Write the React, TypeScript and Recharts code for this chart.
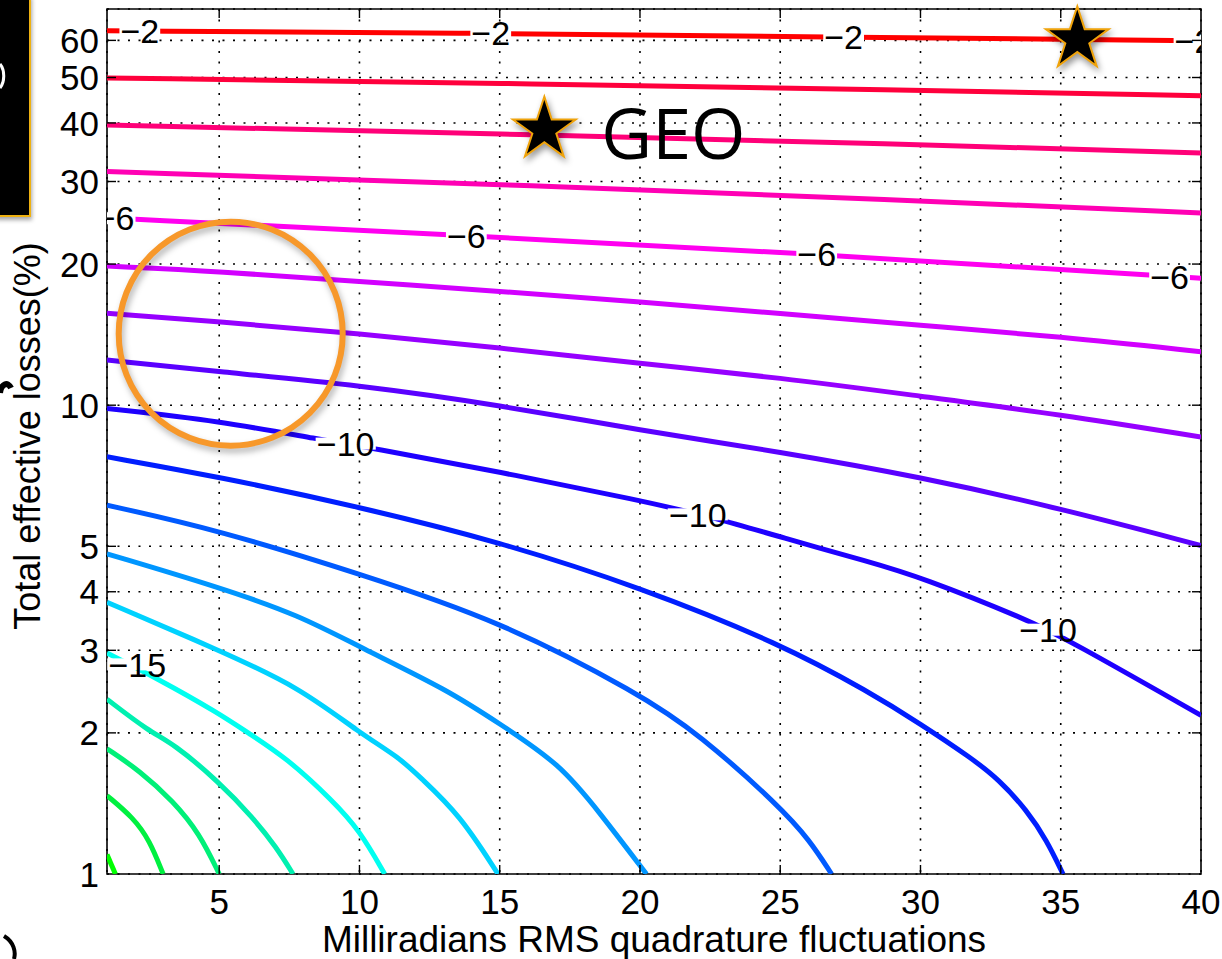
import React from 'react';
import { ComposedChart, Scatter, XAxis, YAxis, CartesianGrid, ReferenceDot, ReferenceArea } from 'recharts';

const WIDTH = 1222;
const HEIGHT = 959;
const MARGIN = { top: 9, right: 21, left: 0, bottom: 0 };
const Y_AXIS_W = 107;
const X_AXIS_H = 85;
const PLOT_LEFT = MARGIN.left + Y_AXIS_W;
const PLOT_RIGHT = WIDTH - MARGIN.right;
const PLOT_TOP = MARGIN.top;
const PLOT_BOTTOM = HEIGHT - MARGIN.bottom - X_AXIS_H;
const TICK_LEN = 9;
const FONT = '"Liberation Sans", Arial, Helvetica, sans-serif';
const TICK_FONT = 35;
const LABEL_FONT = 34;

const xTicks = [5, 10, 15, 20, 25, 30, 35, 40];
const yTicks = [1, 2, 3, 4, 5, 10, 20, 30, 40, 50, 60];

// contour lines, [mrad, loss %] pairs, top (-2) to bottom (-19)
const contourM2 = [[1, 62.9], [14.1, 62.2], [26.7, 61.0], [39.2, 60.0], [40, 59.9]];
const contourM3 = [[1, 49.9], [15, 48.6], [29.3, 47.1], [40, 45.7]];
const contourM4 = [[1, 39.6], [15, 37.9], [29.3, 36.1], [40, 34.5]];
const contourM5 = [[1, 31.5], [15, 29.6], [29.3, 27.4], [40, 25.7]];
const contourM6 = [[1, 25.1], [13.3, 23.1], [25.8, 21.1], [38.4, 18.9], [40, 18.65]];
const contourM7 = [[1, 19.8], [5, 19.3], [10, 18.35], [15, 17.5], [20, 16.6], [25, 15.7], [30, 14.8], [35, 14.0], [40, 13.0]];
const contourM8 = [[1, 15.7], [5, 15.07], [10, 14.2], [15, 13.26], [20, 12.27], [25, 11.45], [30, 10.45], [35, 9.55], [40, 8.55]];
const contourM9 = [[1, 12.48], [5, 11.78], [10, 11.03], [15, 10.0], [20, 8.84], [25, 7.95], [30, 7.03], [35, 6.02], [40, 5.02]];
const contourM10 = [[1, 9.84], [5, 9.26], [8.7, 8.42], [10.25, 8.15], [15, 7.2], [20, 6.27], [22.8, 5.73], [25, 5.23], [28.2, 4.63], [30, 4.3], [33.8, 3.49], [35.3, 3.15], [40, 2.18]];
const contourM11 = [[1, 7.76], [5, 7.03], [10, 6.07], [15, 5.11], [20, 4.09], [25, 3.1], [28.2, 2.44], [30, 2.09], [31.8, 1.77], [32.8, 1.59], [33.8, 1.365], [34.5, 1.18], [35.08, 1.0]];
const contourM12 = [[1, 6.12], [5, 5.41], [10, 4.37], [15, 3.47], [20, 2.42], [22.1, 1.99], [25, 1.39], [26.05, 1.18], [26.83, 1.0]];
const contourM13 = [[1, 4.82], [5, 4.09], [7.87, 3.56], [10, 3.05], [13.2, 2.46], [15, 2.09], [17.14, 1.72], [18.57, 1.35], [20.23, 1.0]];
const contourM14 = [[1, 3.8], [5, 3.0], [7.87, 2.5], [10, 2.0], [11.43, 1.77], [12.15, 1.61], [13.57, 1.34], [14.94, 1.0]];
const contourM15 = [[1, 2.96], [2.76, 2.62], [5, 2.2], [5.97, 2.01], [7.4, 1.77], [9.06, 1.43], [10, 1.24], [10.9, 1.0]];
const contourM16 = [[1, 2.36], [2.52, 2.01], [3.36, 1.9], [5, 1.57], [6.2, 1.32], [7.04, 1.14], [7.63, 1.0]];
const contourM17 = [[1, 1.85], [2.17, 1.66], [3.36, 1.43], [4.3, 1.22], [5.0, 1.0]];
const contourM18 = [[1, 1.47], [1.93, 1.32], [2.52, 1.18], [3.0, 1.0]];
const contourM19 = [[1, 1.1], [1.3, 1.0]];

const contours = [
  { level: -2, color: '#ff0000', points: contourM2 },
  { level: -3, color: '#ff003c', points: contourM3 },
  { level: -4, color: '#ff0078', points: contourM4 },
  { level: -5, color: '#ff00b4', points: contourM5 },
  { level: -6, color: '#ff00f0', points: contourM6 },
  { level: -7, color: '#d200ff', points: contourM7 },
  { level: -8, color: '#9600ff', points: contourM8 },
  { level: -9, color: '#5a00ff', points: contourM9 },
  { level: -10, color: '#1e00ff', points: contourM10 },
  { level: -11, color: '#001eff', points: contourM11 },
  { level: -12, color: '#005aff', points: contourM12 },
  { level: -13, color: '#0096ff', points: contourM13 },
  { level: -14, color: '#00d2ff', points: contourM14 },
  { level: -15, color: '#00fff0', points: contourM15 },
  { level: -16, color: '#00f0b0', points: contourM16 },
  { level: -17, color: '#00f078', points: contourM17 },
  { level: -18, color: '#00f040', points: contourM18 },
  { level: -19, color: '#00ff00', points: contourM19 },
];

// inline contour labels (clabel)
const contourLabels = [
  { x: 2.17, y: 62.8, text: '\u22122' },
  { x: 14.68, y: 62.15, text: '\u22122' },
  { x: 27.26, y: 60.95, text: '\u22122' },
  { x: 39.75, y: 59.92, text: '\u22122' },
  { x: 1.29, y: 25.05, text: '\u22126' },
  { x: 13.81, y: 23.0, text: '\u22126' },
  { x: 26.3, y: 21.0, text: '\u22126' },
  { x: 38.88, y: 18.75, text: '\u22126' },
  { x: 9.51, y: 8.28, text: '\u221210' },
  { x: 22.06, y: 5.85, text: '\u221210' },
  { x: 34.55, y: 3.32, text: '\u221210' },
  { x: 2.08, y: 2.8, text: '\u221215' },
];

const stars = [
  { x: 16.59, y: 38.7, name: 'GEO' },
  { x: 35.59, y: 60.3, name: '' },
];

const highlight = { x: 5.41, y: 14.21 };

const toXY = (pts: number[][]) => pts.map(([x, y]) => ({ x, y }));

const NoPoint = () => <g />;

const XTick = (props: any) => {
  const { x, payload } = props;
  const v = payload.value;
  const edge = v === 40;
  return (
    <g>
      {!edge && <line x1={x} x2={x} y1={PLOT_BOTTOM} y2={PLOT_BOTTOM - TICK_LEN} stroke="#000" strokeWidth={1.4} />}
      {!edge && <line x1={x} x2={x} y1={PLOT_TOP} y2={PLOT_TOP + TICK_LEN} stroke="#000" strokeWidth={1.4} />}
      <text x={x} y={PLOT_BOTTOM + 40} textAnchor="middle" fontSize={TICK_FONT} fontFamily={FONT} fill="#000">{v}</text>
    </g>
  );
};

const YTick = (props: any) => {
  const { y, payload } = props;
  const v = payload.value;
  const edge = v === 1;
  return (
    <g>
      {!edge && <line x1={PLOT_LEFT} x2={PLOT_LEFT + TICK_LEN} y1={y} y2={y} stroke="#000" strokeWidth={1.4} />}
      {!edge && <line x1={PLOT_RIGHT} x2={PLOT_RIGHT - TICK_LEN} y1={y} y2={y} stroke="#000" strokeWidth={1.4} />}
      <text x={PLOT_LEFT - 8} y={y} dy="0.36em" textAnchor="end" fontSize={TICK_FONT} fontFamily={FONT} fill="#000">{v}</text>
    </g>
  );
};

const ContourLabel = (props: any) => {
  const { cx, cy, payload } = props;
  const text: string = payload.text;
  const w = text.length * 0.57 * LABEL_FONT + 2;
  return (
    <g>
      <rect x={cx - w / 2} y={cy - 6} width={w} height={12} fill="#fff" />
      <text x={cx} y={cy} dy="0.36em" textAnchor="middle" fontSize={LABEL_FONT} fontFamily={FONT} fill="#000">{text}</text>
    </g>
  );
};

const starPath = (cx: number, cy: number, R: number) => {
  const r = R * 0.382;
  const pts: string[] = [];
  for (let i = 0; i < 10; i++) {
    const a = -Math.PI / 2 + (i * Math.PI) / 5;
    const rad = i % 2 === 0 ? R : r;
    pts.push(`${cx + rad * Math.cos(a)},${cy + rad * Math.sin(a)}`);
  }
  return pts.join(' ');
};

const StarMark = (props: any) => {
  const { cx, cy, name } = props;
  return (
    <g>
      <polygon
        points={starPath(cx, cy, 33)}
        fill="#000"
        stroke="#f0a30a"
        strokeWidth={2}
        strokeLinejoin="miter"
        style={{ filter: 'drop-shadow(2px 4px 3px rgba(0,0,0,0.4))' }}
      />
      {name && (
        <text x={cx + 57} y={cy + 29} fontSize={70} fontFamily='"Open Sans", sans-serif' fill="#000">{name}</text>
      )}
    </g>
  );
};

const Highlight = (props: any) => {
  const { cx, cy } = props;
  return (
    <circle
      cx={cx}
      cy={cy}
      r={112}
      fill="none"
      stroke="#f7982a"
      strokeWidth={6}
      style={{ filter: 'drop-shadow(2px 4px 3px rgba(0,0,0,0.3))' }}
    />
  );
};

const YTitle = () => (
  <text
    transform={`translate(40, 436) rotate(-90)`}
    textAnchor="middle"
    fontSize={36}
    fontFamily={FONT}
    fill="#000"
  >
    Total effective losses(%)
  </text>
);

// pieces of neighbouring panels cut off at the left edge
const EdgeFragments = () => (
  <svg width={WIDTH} height={HEIGHT} style={{ position: 'absolute', left: 0, top: 0, pointerEvents: 'none' }}>
    <rect x={-4} y={-4} width={34} height={220} fill="#000" stroke="#eeb111" strokeWidth={2}
      style={{ filter: 'drop-shadow(1px 3px 2px rgba(0,0,0,0.35))' }} />
    <path d="M0,64 C5,70 5,82 0,88" stroke="#fff" strokeWidth={3} fill="none" />
    <path d="M0,393 C1,384 8,381 11,388" stroke="#000" strokeWidth={6} fill="none" />
    <path d="M4,936 C14,942 16,952 14,959" stroke="#000" strokeWidth={4} fill="none" />
  </svg>
);

export default function App() {
  return (
    <div style={{ position: 'absolute', left: 0, top: 0, width: WIDTH, height: HEIGHT, background: '#fff' }}>
      <ComposedChart width={WIDTH} height={HEIGHT} margin={MARGIN}>
        <CartesianGrid stroke="#000" strokeDasharray="2 8.5" strokeWidth={1.6} />
        <XAxis
          type="number"
          dataKey="x"
          domain={[1, 40]}
          ticks={xTicks}
          interval={0}
          allowDataOverflow
          height={X_AXIS_H}
          axisLine={false}
          tickLine={false}
          tickSize={0}
          tick={(p: any) => <XTick {...p} />}
          label={{
            value: 'Milliradians RMS quadrature fluctuations',
            position: 'insideBottom',
            offset: 7,
            fontSize: 37,
            fontFamily: FONT,
            fill: '#000',
          }}
        />
        <YAxis
          type="number"
          dataKey="y"
          scale="log"
          domain={[1, 70]}
          ticks={yTicks}
          interval={0}
          allowDataOverflow
          width={Y_AXIS_W}
          axisLine={false}
          tickLine={false}
          tickSize={0}
          tick={(p: any) => <YTick {...p} />}
          label={<YTitle />}
        />
        {contours.map((c) => (
          <Scatter
            key={c.level}
            data={toXY(c.points)}
            line={{ stroke: c.color, strokeWidth: 5 }}
            lineType="joint"
            lineJointType="basis"
            shape={NoPoint}
            isAnimationActive={false}
          />
        ))}
        <Scatter data={contourLabels} shape={(p: any) => <ContourLabel {...p} />} isAnimationActive={false} />
        <ReferenceArea x1={1} x2={40} y1={1} y2={70} fill="none" stroke="#000" strokeWidth={1.6} ifOverflow="visible" />
        <ReferenceDot x={highlight.x} y={highlight.y} r={1} ifOverflow="visible" shape={(p: any) => <Highlight {...p} />} />
        {stars.map((s) => (
          <ReferenceDot
            key={s.x}
            x={s.x}
            y={s.y}
            r={1}
            ifOverflow="visible"
            shape={(p: any) => <StarMark {...p} name={s.name} />}
          />
        ))}
      </ComposedChart>
      <EdgeFragments />
    </div>
  );
}
